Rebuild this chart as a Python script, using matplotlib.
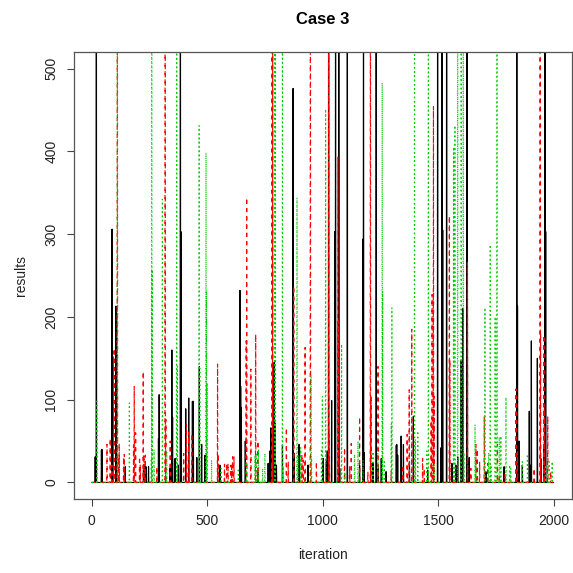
import numpy as np
import matplotlib
matplotlib.use("Agg")
import matplotlib.pyplot as plt

plt.rcParams['font.family'] = ['Liberation Sans', 'DejaVu Sans']

title = "Case 3"
x_label = "iteration"
y_label = "results"
x_ticks = [0, 500, 1000, 1500, 2000]
y_ticks = [0, 100, 200, 300, 400, 500]
n_iter = 2000

# spikes (iteration, value); other iterations ~0
black_iter = [20, 44, 88, 91, 105, 229, 235, 289, 292, 347, 350, 384, 386, 407, 420, 436,
              440, 455, 466, 476, 553, 642, 645, 648, 665, 771, 776, 790, 793, 800, 826,
              872, 877, 898, 900, 937, 1002, 1020, 1026, 1039, 1053, 1056, 1070, 1107,
              1174, 1177, 1180, 1218, 1232, 1237, 1254, 1275, 1321, 1340, 1350, 1393,
              1498, 1513, 1517, 1520, 1537, 1560, 1585, 1600, 1607, 1625, 1627, 1635,
              1841, 1844, 1851, 1895, 1902, 1904, 1930, 1959, 1963, 1966]
black_val = [800, 40, 306, 152, 213, 21, 19, 53, 106, 160, 79, 800, 303, 89, 102, 98,
             98, 30, 140, 46, 18, 232, 116, 90, 50, 38, 66, 145, 72, 21, 45,
             476, 35, 46, 40, 21, 29, 38, 800, 99, 303, 800, 800, 800,
             294, 800, 36, 23, 800, 13, 29, 13, 46, 56, 46, 80,
             800, 42, 800, 305, 800, 23, 31, 148, 210, 800, 302, 30,
             800, 213, 50, 86, 21, 171, 150, 46, 800, 303]
black_small_iter = [15, 42, 145, 224, 246, 339, 361, 375, 491, 555, 721, 764, 872, 1016,
                    1074, 1160, 1240, 1319, 1325, 1376, 1455, 1577, 1707, 1786, 1865, 1945]
black_small_val = [31, 39, 19, 15, 19, 17, 29, 21, 33, 21, 13, 23, 9, 25,
                   17, 21, 17, 45, 33, 25, 15, 21, 13, 19, 21, 29]

red_iter = [66, 80, 97, 111, 119, 141, 184, 190, 207, 223, 226, 318, 321, 340, 398, 410,
            420, 433, 545, 548, 575, 590, 603, 610, 669, 671, 689, 710, 720, 781, 784,
            843, 875, 910, 924, 947, 1026, 1029, 1066, 1068, 1095, 1124, 1160, 1207,
            1210, 1240, 1366, 1375, 1386, 1440, 1470, 1474, 1480, 1483, 1549, 1551,
            1627, 1664, 1670, 1680, 1700, 1715, 1757, 1790, 1837, 1942, 1944, 1958,
            1960, 1975]
red_val = [46, 53, 162, 800, 47, 34, 116, 60, 31, 134, 33, 800, 76, 50, 35, 70,
           61, 59, 143, 34, 22, 23, 21, 31, 171, 344, 137, 179, 50, 800, 800,
           66, 237, 34, 163, 800, 800, 58, 393, 195, 42, 47, 79, 800,
           104, 140, 58, 112, 185, 17, 75, 227, 454, 104, 322, 148,
           266, 46, 40, 25, 80, 23, 46, 11, 113, 800, 180, 178,
           90, 80]
red_small_iter = [87, 116, 138, 181, 210, 232, 282, 419, 584, 606, 616, 779, 851, 916,
                  973, 1117, 1196, 1297, 1347, 1433, 1549, 1642, 1765, 1844, 1916, 1988]
red_small_val = [21, 31, 31, 45, 21, 33, 19, 25, 23, 23, 31, 19, 25, 27,
                 25, 19, 13, 13, 21, 29, 25, 17, 9, 37, 17, 13]

green_iter = [22, 111, 163, 260, 262, 270, 306, 368, 371, 465, 468, 495, 497, 500, 560,
              714, 722, 740, 793, 795, 826, 889, 905, 950, 999, 1013, 1082, 1138, 1153,
              1239, 1258, 1260, 1297, 1300, 1398, 1402, 1412, 1451, 1458, 1567, 1573,
              1585, 1600, 1609, 1612, 1660, 1703, 1719, 1726, 1747, 1755, 1765, 1772,
              1794, 1810, 1865, 1887, 1981, 1994]
green_val = [98, 800, 96, 800, 257, 40, 342, 800, 140, 431, 138, 398, 231, 120, 17,
             34, 40, 17, 800, 800, 800, 344, 42, 130, 104, 451, 167, 34, 50,
             36, 483, 231, 71, 211, 800, 52, 62, 38, 800, 405, 431,
             800, 800, 800, 36, 70, 211, 36, 287, 200, 800, 55, 56,
             103, 21, 25, 34, 25, 25]
green_small_iter = [258, 325, 519, 635, 671, 707, 750, 829, 894, 952, 995, 1096, 1139,
                    1175, 1218, 1268, 1397, 1484, 1599, 1664, 1729, 1815, 1887, 1966]
green_small_val = [29, 37, 27, 17, 25, 33, 35, 19, 33, 29, 41, 13, 25,
                   27, 37, 25, 41, 21, 29, 25, 21, 17, 33, 21]


def build(idx, vals, small_idx, small_vals):
    y = np.zeros(n_iter)
    y[np.asarray(small_idx) - 1] = small_vals
    i = np.asarray(idx) - 1
    y[i] = np.maximum(y[i], vals)
    return y


iteration = np.arange(1, n_iter + 1)
series = [
    (build(black_iter, black_val, black_small_iter, black_small_val),
     dict(color='black', lw=0.85, ls='-')),
    (build(red_iter, red_val, red_small_iter, red_small_val),
     dict(color='#ff0000', lw=0.85, dashes=(3.5, 3.5))),
    (build(green_iter, green_val, green_small_iter, green_small_val),
     dict(color='#00cc00', lw=0.85, dashes=(1.2, 2.4))),
]

fig = plt.figure(figsize=(5.73, 5.73), dpi=100)
ax = fig.add_axes([73.5 / 573, (573 - 499) / 573, (572 - 73.5) / 573, (499 - 52) / 573])
for y, kw in series:
    ax.plot(iteration, y, **kw)

ax.set_xlim(-79, 2080)
ax.set_ylim(-20, 520)
ax.set_xticks(x_ticks)
ax.set_yticks(y_ticks)
ax.set_xticklabels([str(v) for v in x_ticks], fontsize=10, color='#222222')
ax.set_yticklabels([str(v) for v in y_ticks], fontsize=10, color='#222222',
                   rotation=90, va='center')
ax.tick_params(direction='out', length=5, width=0.8, color='#444444', pad=6)
for s in ax.spines.values():
    s.set_color('#555555')
    s.set_linewidth(0.9)
ax.set_xlabel(x_label, fontsize=10, color='#222222', labelpad=14)
ax.set_ylabel(y_label, fontsize=10, color='#222222', labelpad=12)
ax.set_title(title, fontsize=12, fontweight='bold', pad=20)

fig.savefig("out.png", dpi=100)
